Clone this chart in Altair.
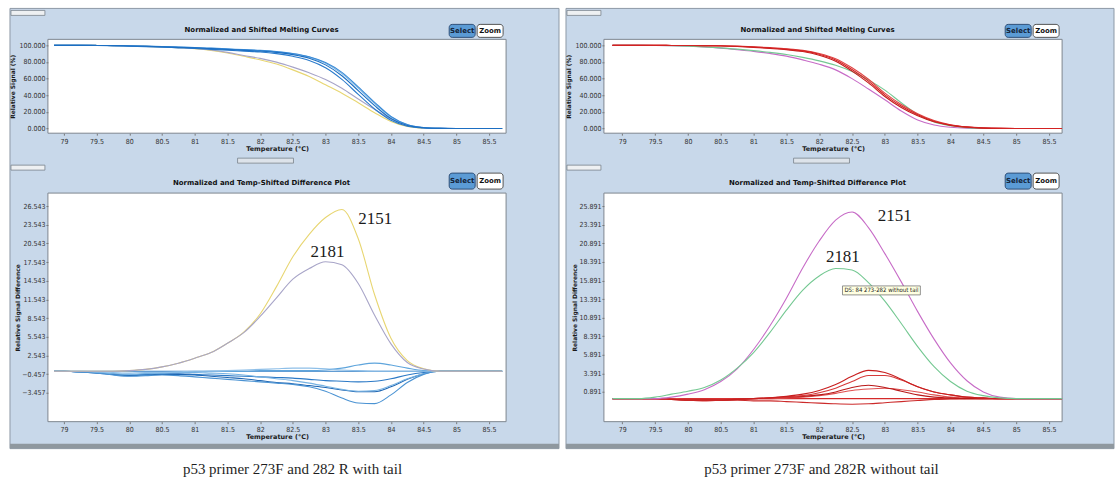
import altair as alt
import pandas as pd

# ---------------- data ----------------
T = [78.85, 79.0, 79.25, 79.5, 79.75, 80.0, 80.25, 80.5, 80.75, 81.0, 81.25, 81.5, 81.75, 82.0,
     82.25, 82.5, 82.75, 83.0, 83.25, 83.5, 83.75, 84.0, 84.25, 84.5, 84.75, 85.0, 85.25, 85.5, 85.7]

# left: with tail - melting curves (%)
mL_b1 = [100, 100, 100, 99.9, 99.7, 99.3, 98.9, 98.3, 97.6, 96.9, 96.0, 95.0, 94.0, 93.0, 91.5, 88.8, 84.5, 76.5, 63.5, 45.5, 27.5, 12.0, 3.5, 0.9, 0.1, 0, 0, 0, 0]
mL_b2 = [100, 100, 100, 99.8, 99.5, 99.0, 98.5, 97.8, 97.0, 96.2, 95.2, 94.2, 93.1, 92.0, 90.0, 86.8, 81.8, 73.0, 59.0, 41.0, 23.5, 10.0, 2.8, 0.6, 0.1, 0, 0, 0, 0]
mL_b3 = [100, 100, 100, 99.9, 99.8, 99.5, 99.1, 98.6, 98.0, 97.4, 96.6, 95.7, 94.8, 94.0, 92.5, 90.2, 86.3, 79.3, 67.5, 50.0, 31.5, 14.5, 4.8, 1.2, 0.2, 0, 0, 0, 0]
mL_b4 = [100, 100, 100, 99.9, 99.7, 99.4, 99.0, 98.4, 97.8, 97.1, 96.3, 95.4, 94.5, 93.6, 92.2, 89.8, 85.8, 78.5, 66.0, 48.5, 30.0, 13.8, 4.4, 1.1, 0.2, 0, 0, 0, 0]
mL_2151 = [100, 100, 100, 99.9, 99.7, 99.3, 98.8, 98.1, 97.2, 96.0, 94.0, 90.8, 86.8, 82.6, 77.5, 70.5, 62.5, 52.5, 42.5, 31.0, 19.0, 8.5, 2.5, 0.4, 0, 0, 0, 0, 0]
mL_2181 = [100, 100, 100, 99.9, 99.7, 99.3, 98.8, 98.1, 97.3, 96.2, 94.4, 91.5, 87.8, 84.3, 79.8, 73.8, 67.0, 59.0, 48.5, 35.5, 23.0, 11.5, 3.8, 0.8, 0.1, 0, 0, 0, 0]

# left: difference curves
dL_ref = [0, 0, 0, 0, 0, 0, 0, 0, 0, 0, 0, 0, 0, 0, 0, 0, 0, 0, 0, 0, 0, 0, 0, 0, 0, 0, 0, 0, 0]
dL_a = [0, 0, -0.1, -0.2, -0.4, -0.5, -0.4, -0.3, -0.2, -0.1, 0, 0, 0, 0.1, 0.1, 0.1, 0.1, 0.2, 0.5, 1.0, 1.3, 1.0, 0.5, 0.1, 0, 0, 0, 0, 0]
dL_b = [0, 0, -0.1, -0.2, -0.5, -0.6, -0.5, -0.4, -0.4, -0.5, -0.6, -0.7, -0.8, -0.9, -1.0, -1.1, -1.3, -1.5, -1.6, -1.7, -1.6, -1.2, -0.6, -0.2, 0, 0, 0, 0, 0]
dL_c = [0, 0, -0.1, -0.3, -0.5, -0.7, -0.6, -0.5, -0.5, -0.6, -0.8, -1.0, -1.2, -1.5, -1.8, -2.0, -2.3, -2.6, -3.0, -3.3, -3.3, -2.5, -1.3, -0.4, 0, 0, 0, 0, 0]
dL_d = [0, 0, -0.1, -0.2, -0.4, -0.5, -0.4, -0.3, -0.2, -0.2, -0.3, -0.4, -0.6, -0.9, -1.2, -1.5, -1.9, -2.4, -2.9, -3.2, -3.1, -2.3, -1.2, -0.4, 0, 0, 0, 0, 0]
dL_e = [0, 0, -0.1, -0.3, -0.6, -0.8, -0.7, -0.6, -0.7, -0.9, -1.1, -1.3, -1.5, -1.7, -1.9, -2.1, -2.5, -3.2, -4.3, -5.1, -5.2, -3.8, -1.8, -0.5, 0, 0, 0, 0, 0]
dL_f = [0, 0, 0, -0.1, -0.2, -0.3, -0.2, -0.2, -0.1, 0, 0, 0.1, 0.2, 0.3, 0.4, 0.5, 0.5, 0.4, 0.2, 0.1, 0, 0, 0, 0, 0, 0, 0, 0, 0]
dL_2151 = [0, 0, 0, 0, 0, 0.1, 0.3, 0.7, 1.3, 2.1, 3.0, 4.5, 6.3, 9.2, 13.6, 18.4, 22.0, 24.7, 26.0, 21.3, 12.3, 5.3, 1.7, 0.4, 0, 0, 0, 0, 0]
dL_2181 = [0, 0, 0, 0, 0, 0.1, 0.3, 0.7, 1.3, 2.1, 3.0, 4.5, 6.2, 8.8, 11.8, 14.8, 16.5, 17.6, 17.1, 14.1, 9.0, 4.4, 1.4, 0.35, 0, 0, 0, 0, 0]

# right: without tail - melting curves (%)
mR_r1 = [100, 100, 100, 100, 99.9, 99.8, 99.7, 99.5, 98.9, 98.0, 96.8, 95.4, 93.3, 89.3, 82.5, 71.0, 57.0, 40.5, 27.0, 16.5, 8.8, 4.2, 1.8, 0.6, 0.1, 0, 0, 0, 0]
mR_r2 = [100, 100, 100, 100, 99.9, 99.8, 99.6, 99.3, 98.6, 97.6, 96.3, 94.8, 92.5, 88.2, 81.0, 69.0, 54.8, 38.5, 25.2, 15.2, 8.0, 3.8, 1.6, 0.5, 0.1, 0, 0, 0, 0]
mR_r3 = [100, 100, 100, 100, 99.9, 99.8, 99.7, 99.6, 99.1, 98.3, 97.2, 95.9, 94.0, 90.3, 84.0, 73.0, 59.2, 42.5, 28.8, 17.8, 9.6, 4.6, 2.0, 0.7, 0.1, 0, 0, 0, 0]
mR_2151 = [100, 100, 100, 99.9, 99.6, 99.0, 98.0, 96.6, 94.8, 92.8, 90.2, 87.0, 82.5, 77.3, 70.5, 60.0, 47.5, 34.5, 21.0, 10.2, 4.2, 1.5, 0.4, 0.1, 0, 0, 0, 0, 0]
mR_2181 = [100, 100, 100, 99.9, 99.7, 99.1, 98.2, 97.0, 95.4, 93.6, 91.5, 89.0, 85.5, 81.3, 76.0, 68.5, 58.5, 46.2, 31.0, 17.0, 7.8, 3.3, 1.0, 0.3, 0, 0, 0, 0, 0]

# right: difference curves
dR_r0 = [0, 0, 0, 0, 0, 0, 0, 0, 0, 0, 0, 0, 0, 0, 0, 0, 0, 0, 0, 0, 0, 0, 0, 0, 0, 0, 0, 0, 0]
dR_r1 = [0, 0, 0, 0, -0.1, -0.2, -0.2, -0.2, -0.1, 0, 0.1, 0.3, 0.6, 1.1, 1.9, 3.0, 3.8, 3.5, 2.6, 1.6, 0.9, 0.5, 0.2, 0.1, 0, 0, 0, 0, 0]
dR_r2 = [0, 0, 0, 0, -0.1, -0.2, -0.3, -0.2, -0.1, 0, 0.1, 0.2, 0.4, 0.8, 1.4, 2.3, 3.1, 3.1, 2.5, 1.6, 0.9, 0.5, 0.2, 0.1, 0, 0, 0, 0, 0]
dR_r3 = [0, 0, 0, 0, -0.1, -0.2, -0.2, -0.2, -0.1, 0, 0.1, 0.2, 0.3, 0.5, 0.9, 1.5, 1.8, 1.5, 1.0, 0.5, 0.2, 0.1, 0, 0, 0, 0, 0, 0, 0]
dR_r4 = [0, 0, 0, 0, 0, -0.1, -0.1, -0.1, -0.1, 0, 0, 0.1, 0.2, 0.4, 0.7, 1.1, 1.3, 1.4, 1.2, 0.9, 0.5, 0.2, 0.1, 0, 0, 0, 0, 0, 0]
dR_r5 = [0, 0, 0, 0, 0, -0.1, -0.1, -0.2, -0.2, -0.3, -0.3, -0.4, -0.5, -0.6, -0.7, -0.75, -0.7, -0.55, -0.4, -0.25, -0.1, -0.05, 0, 0, 0, 0, 0, 0, 0]
dR_2151 = [0, 0, 0, 0, 0.2, 0.6, 1.2, 2.3, 4.0, 6.6, 9.8, 13.5, 17.6, 21.2, 24.0, 25.1, 23.0, 19.5, 15.7, 11.7, 8.0, 4.8, 2.4, 0.9, 0.2, 0, 0, 0, 0]
dR_2181 = [0, 0, 0, 0.2, 0.6, 1.0, 1.5, 2.5, 4.1, 6.2, 8.9, 11.9, 14.6, 16.5, 17.5, 17.3, 15.6, 13.1, 10.1, 7.0, 4.3, 2.3, 1.0, 0.4, 0.1, 0, 0, 0, 0]

x_ticks = [79, 79.5, 80, 80.5, 81, 81.5, 82, 82.5, 83, 83.5, 84, 84.5, 85, 85.5]
y_ticks_top = [0, 20, 40, 60, 80, 100]
y_ticks_dL = [-3.457, -0.457, 2.543, 5.543, 8.543, 11.543, 14.543, 17.543, 20.543, 23.543, 26.543]
y_ticks_dR = [0.891, 3.391, 5.891, 8.391, 10.891, 13.391, 15.891, 18.391, 20.891, 23.391, 25.891]

labels_L = [{"T": 83.76, "v": 24.4, "label": "2151"}, {"T": 83.03, "v": 19.2, "label": "2181"}]
labels_R = [{"T": 83.15, "v": 24.6, "label": "2151"}, {"T": 82.36, "v": 19.05, "label": "2181"}]

# ---------------- styling ----------------
PANEL = "#c8d8ea"
W = 459
HT = 94
HB = 229
SANS = "DejaVu Sans"
NARROW = "Liberation Sans Narrow, DejaVu Sans Condensed, sans-serif"
SERIF = "Liberation Serif, Times New Roman, serif"
one = pd.DataFrame({"k": [0]})


def long(series):
    rows = []
    for name, vals in series:
        for t, v in zip(T, vals):
            rows.append({"T": t, "v": v, "s": name})
    return pd.DataFrame(rows)


def drect(x, x2, y, y2, **kw):
    return alt.Chart(one).mark_rect(**kw).encode(
        x=alt.value(x), x2=alt.value(x2), y=alt.value(y), y2=alt.value(y2))


def dtext(txt, x, y, **kw):
    return alt.Chart(one).mark_text(text=txt, **kw).encode(x=alt.value(x), y=alt.value(y))


def panel(series, colors, xdom, ydom, yticks, ytitle, title, H, top, ytitle_pad,
          right_edge, labels=None, extra=None, caption=None, caption_x=0):
    df = long(series)
    names = [n for n, _ in series]
    X = alt.X("T:Q", scale=alt.Scale(domain=xdom, nice=False, zero=False),
              axis=alt.Axis(values=x_ticks, format="~g", title="Temperature (°C)",
                            titleFont=SANS, titleFontSize=6.5, titleFontWeight="bold",
                            titleColor="#1a1a1a", titlePadding=1,
                            labelFont=NARROW, labelFontSize=7, labelColor="#333",
                            labelPadding=2, tickSize=2, tickColor="#777",
                            domain=False, grid=False, zindex=1))
    Y = alt.Y("v:Q", scale=alt.Scale(domain=ydom, nice=False, zero=False),
              axis=alt.Axis(values=yticks, format=".3f", title=ytitle,
                            titleFont=SANS, titleFontSize=6, titleFontWeight="bold",
                            titleColor="#1a1a1a", titlePadding=ytitle_pad,
                            labelFont=NARROW, labelFontSize=7, labelColor="#333",
                            labelPadding=1, tickSize=2, tickColor="#777",
                            domain=False, grid=False, zindex=1))
    layers = []
    if top:
        layers.append(drect(-38, right_edge, -31, 410, fill=PANEL, stroke="#8d99a6", strokeWidth=1))
        layers.append(drect(-38, right_edge, 405, 410, fill="#8f989f"))
        layers.append(drect(-37, -3, -29, -24, fill="#eef0f2", stroke="#7a838c", strokeWidth=0.8))
        layers.append(drect(190, 246, 119, 124, fill="#dde3ea", stroke="#7a838c", strokeWidth=0.8))
        by, by2 = -15, -2
    else:
        layers.append(drect(-37, -3, -28, -23, fill="#eef0f2", stroke="#7a838c", strokeWidth=0.8))
        by, by2 = -20, -4
    # Select / Zoom buttons
    layers.append(drect(402, 428, by, by2, fill="#5b9bd5", stroke="#2f4f78", strokeWidth=1, cornerRadius=3))
    layers.append(dtext("Select", 415, (by + by2) / 2, font=SANS, fontSize=7, fontWeight="bold", color="#14243a"))
    layers.append(drect(430, 456, by, by2, fill="white", stroke="#555", strokeWidth=1, cornerRadius=3))
    layers.append(dtext("Zoom", 443, (by + by2) / 2, font=SANS, fontSize=7, fontWeight="bold", color="#111"))
    # panel title
    layers.append(dtext(title, 214, -9 if top else -10, font=SANS, fontSize=7, fontWeight="bold", color="#111"))
    # plot area
    layers.append(drect(0, W, 0, H, fill="white", stroke="#7d868f", strokeWidth=1))
    layers.append(alt.Chart(df).mark_line(clip=True, strokeWidth=1.1, interpolate="monotone").encode(
        x=X, y=Y,
        color=alt.Color("s:N", scale=alt.Scale(domain=names, range=colors), legend=None)))
    if labels is not None:
        layers.append(alt.Chart(pd.DataFrame(labels)).mark_text(
            font=SERIF, fontSize=17, color="#1a1a1a").encode(x=X, y=Y, text="label:N"))
    if extra is not None:
        layers.extend(extra)
    if caption is not None:
        layers.append(dtext(caption, caption_x, 276, font=SERIF, fontSize=15, color="#1e1e1e"))
    return alt.layer(*layers).properties(width=W, height=H)


xdomL = [78.756, 85.76]
xdomR = [78.72, 85.70]

tl = panel([("y2151", mL_2151), ("g2181", mL_2181), ("b4", mL_b4), ("b3", mL_b3), ("b2", mL_b2), ("b1", mL_b1)],
           ["#e8d672", "#a8a5c8", "#7fb8e6", "#3a8ad6", "#2a7acb", "#1b6ec2"],
           xdomL, [-5.64, 107.2], y_ticks_top, "Relative Signal (%)",
           "Normalized and Shifted Melting Curves", HT, True, 3, 512)

bl = panel([("ref", dL_ref), ("a", dL_a), ("b", dL_b), ("c", dL_c), ("d", dL_d), ("e", dL_e), ("f", dL_f),
            ("y2151", dL_2151), ("g2181", dL_2181)],
           ["#2f7cc4", "#5fa5dc", "#2b79c6", "#1e66b3", "#76b2e2", "#4b93d3", "#8ebfe8", "#e8d672", "#a8a5c8"],
           xdomL, [-8.10, 28.63], y_ticks_dL, "Relative Signal Difference",
           "Normalized and Temp-Shifted Difference Plot", HB, False, 1, 512,
           labels=labels_L, caption="p53 primer 273F and 282 R with tail", caption_x=245)

tr = panel([("p2151", mR_2151), ("g2181", mR_2181), ("r3", mR_r3), ("r2", mR_r2), ("r1", mR_r1)],
           ["#c76cc7", "#74c892", "#e04545", "#c41a1a", "#d32222"],
           xdomR, [-5.64, 107.2], y_ticks_top, "Relative Signal (%)",
           "Normalized and Shifted Melting Curves", HT, True, 3, 511)

tip = [drect(239, 317, 93, 102, fill="#ffffe1", stroke="#777", strokeWidth=0.8),
       dtext("DS: 84 273-282 without tail", 278, 97.5, font=NARROW, fontSize=6, color="#222")]

br = panel([("r0", dR_r0), ("r5", dR_r5), ("r4", dR_r4), ("r3", dR_r3), ("r2", dR_r2), ("r1", dR_r1),
            ("p2151", dR_2151), ("g2181", dR_2181)],
           ["#d42a2a", "#cc2a2a", "#e05050", "#b81818", "#d63a3a", "#c81f1f", "#c76cc7", "#74c892"],
           xdomR, [-3.10, 27.64], y_ticks_dR, "Relative Signal Difference",
           "Normalized and Temp-Shifted Difference Plot", HB, False, 1, 511,
           labels=labels_R, extra=tip, caption="p53 primer 273F and 282R without tail", caption_x=218)

chart = alt.concat(tl, tr, bl, br, columns=2, bounds="flush",
                   spacing={"row": 60, "column": 98}).resolve_scale(
    color="independent", x="independent", y="independent"
).properties(
    padding={"left": 9, "top": 7, "right": 0, "bottom": 0},
    background="white",
).configure_view(stroke=None)

chart.save("out.html", embed_options={"renderer": "svg", "actions": False})
